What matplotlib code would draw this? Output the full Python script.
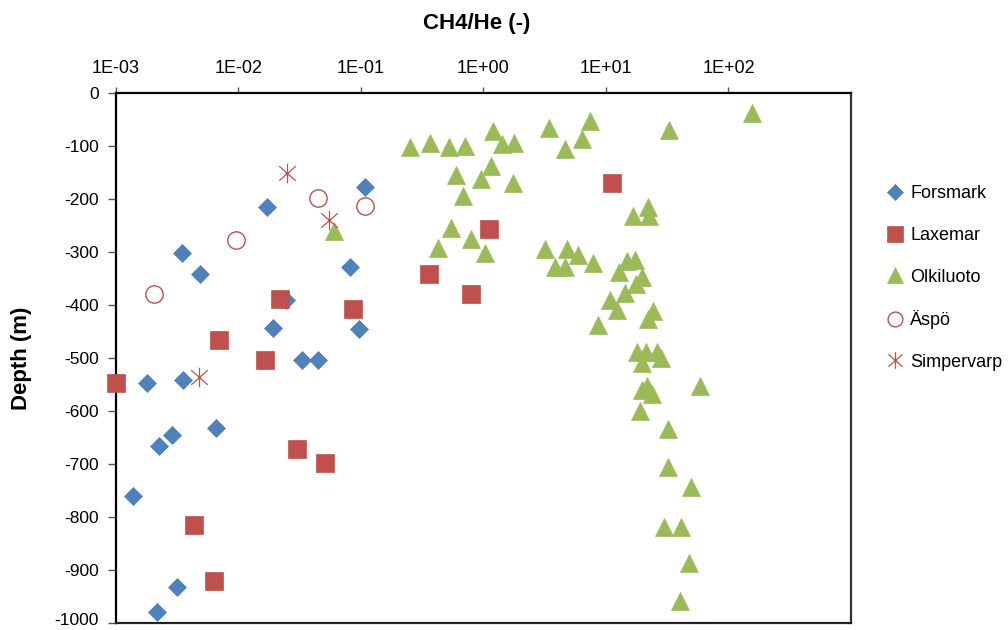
import matplotlib
matplotlib.use("Agg")
import matplotlib.pyplot as plt
import matplotlib.transforms as mtransforms
from matplotlib.path import Path
from matplotlib.ticker import FixedLocator, FixedFormatter, NullLocator

plt.rcParams['font.family'] = ['Liberation Sans', 'DejaVu Sans']

# ---------------- data ----------------
forsmark_x = [0.108, 0.0173, 0.00349, 0.00486, 0.0813, 0.0247, 0.0193, 0.096, 0.0334,
              0.0448, 0.0018, 0.00351, 0.0066, 0.00289, 0.00225, 0.00138, 0.00318, 0.00216]
forsmark_d = [-176, -215, -302, -341, -328, -390, -442, -444, -503,
              -503, -546, -541, -632, -645, -665, -759, -931, -978]

laxemar_x = [0.022, 0.0865, 0.00695, 0.01655, 0.001, 0.0302, 0.0508, 0.00433, 0.00637,
             1.11, 0.357, 0.79, 11.3]
laxemar_d = [-389, -407, -465, -503, -547, -671, -698, -815, -921,
             -256, -341, -378, -169]

olkiluoto_x = [0.060, 0.254, 0.369, 0.524, 0.711, 1.21, 1.43, 1.79, 3.44, 7.48, 4.65, 6.35,
               1.15, 0.593, 0.955, 1.74, 0.678, 0.541, 0.79, 0.426, 1.04, 3.19, 4.85, 5.97,
               3.87, 4.65, 7.9, 10.8, 8.63, 32.5, 155, 16.5, 21.9, 22.6, 14.9, 17.4, 12.9,
               19.7, 17.6, 14.4, 12.3, 24.1, 22.2, 17.9, 21.2, 26.1, 28.2, 19.7, 19.7, 21.5,
               23.8, 58.1, 19.0, 32.3, 31.9, 49.8, 30.0, 41.0, 47.3, 40.5]
olkiluoto_d = [-260, -101, -94, -101, -99, -72, -96, -93, -65, -52, -105, -86,
               -137, -154, -162, -170, -193, -255, -274, -292, -301, -294, -294, -306,
               -328, -328, -320, -390, -438, -69, -38, -232, -215, -232, -316, -315, -338,
               -347, -360, -377, -408, -411, -425, -489, -488, -489, -500, -509, -560, -553,
               -568, -552, -599, -633, -706, -743, -819, -819, -886, -957]

aspo_x = [0.0448, 0.109, 0.00955, 0.00205]
aspo_d = [-198, -212, -276, -378]

simpervarp_x = [0.0249, 0.055, 0.0048]
simpervarp_d = [-151, -239, -535]

x_ticks = [1e-3, 1e-2, 1e-1, 1e0, 1e1, 1e2]
x_ticklabels = ['1E-03', '1E-02', '1E-01', '1E+00', '1E+01', '1E+02']
y_ticks = [0, -100, -200, -300, -400, -500, -600, -700, -800, -900, -1000]

# ---------------- style ----------------
c_blue = '#4F81BD'
c_red = '#C0504D'
c_green = '#9BBB59'

star = Path([(0, -1), (0, 1), (-0.85, -0.75), (0.85, 0.75), (-0.85, 0.75), (0.85, -0.75)],
            [Path.MOVETO, Path.LINETO, Path.MOVETO, Path.LINETO, Path.MOVETO, Path.LINETO])

W, H = 1008, 630
fig = plt.figure(figsize=(W / 100, H / 100), dpi=100)
ax = fig.add_axes([115.7 / W, 1 - 623.3 / H, (851 - 115.7) / W, (623.3 - 93.3) / H])

ax.plot(forsmark_x, forsmark_d, ls='none', marker='D', ms=9.2, mfc=c_blue, mec=c_blue,
        mew=0.5, label='Forsmark', clip_on=False, zorder=3)
ax.plot(laxemar_x, laxemar_d, ls='none', marker='s', ms=13.3, mfc=c_red, mec=c_red,
        mew=0.5, label='Laxemar', clip_on=False, zorder=3)
ax.plot(olkiluoto_x, olkiluoto_d, ls='none', marker='^', ms=13, mfc=c_green, mec=c_green,
        mew=0.5, label='Olkiluoto', clip_on=False, zorder=3)
ax.plot(aspo_x, aspo_d, ls='none', marker='o', ms=12.5, mfc='none', mec=c_red,
        mew=1.0, label='Äspö', clip_on=False, zorder=3)
ax.plot(simpervarp_x, simpervarp_d, ls='none', marker=star, ms=14, mfc='none', mec=c_red,
        mew=0.9, label='Simpervarp', clip_on=False, zorder=3)

ax.set_xscale('log')
ax.set_xlim(1e-3, 1e3)
ax.set_ylim(-1000, 0)

ax.xaxis.set_major_locator(FixedLocator(x_ticks))
ax.xaxis.set_major_formatter(FixedFormatter(x_ticklabels))
ax.xaxis.set_minor_locator(NullLocator())
ax.xaxis.tick_top()
ax.set_yticks(y_ticks)
ax.set_yticklabels([str(v) for v in y_ticks])

ax.tick_params(axis='x', which='major', direction='out', length=4, width=1, color='#555555',
               labelsize=13, pad=8)
ax.tick_params(axis='y', which='major', direction='out', length=6, width=1, color='#555555',
               labelsize=12.5, pad=6)

# nudge the bottom label slightly up so it stays inside the canvas
last_lbl = ax.get_yticklabels()[-1]
last_lbl.set_transform(last_lbl.get_transform() +
                       mtransforms.ScaledTranslation(0, 3 / 72, fig.dpi_scale_trans))

for s in ax.spines.values():
    s.set_color('black')
    s.set_linewidth(1.6)
ax.spines['right'].set_color('#333333')
ax.spines['bottom'].set_color('#222222')

fig.text(477 / W, 1 - 23 / H, 'CH4/He (-)', ha='center', va='center', fontsize=16,
         fontweight='bold')
fig.text(22 / W, 1 - 358 / H, 'Depth (m)', ha='center', va='center', rotation=90,
         fontsize=16, fontweight='bold')

handles, labels = ax.get_legend_handles_labels()
fig.legend(handles, labels, loc='center left', bbox_to_anchor=(884 / W, 1 - 278 / H),
           frameon=False, fontsize=13, markerscale=0.85, handlelength=1.2,
           handletextpad=0.25, labelspacing=1.36, borderpad=0, borderaxespad=0)

fig.savefig('out.png', dpi=100)
